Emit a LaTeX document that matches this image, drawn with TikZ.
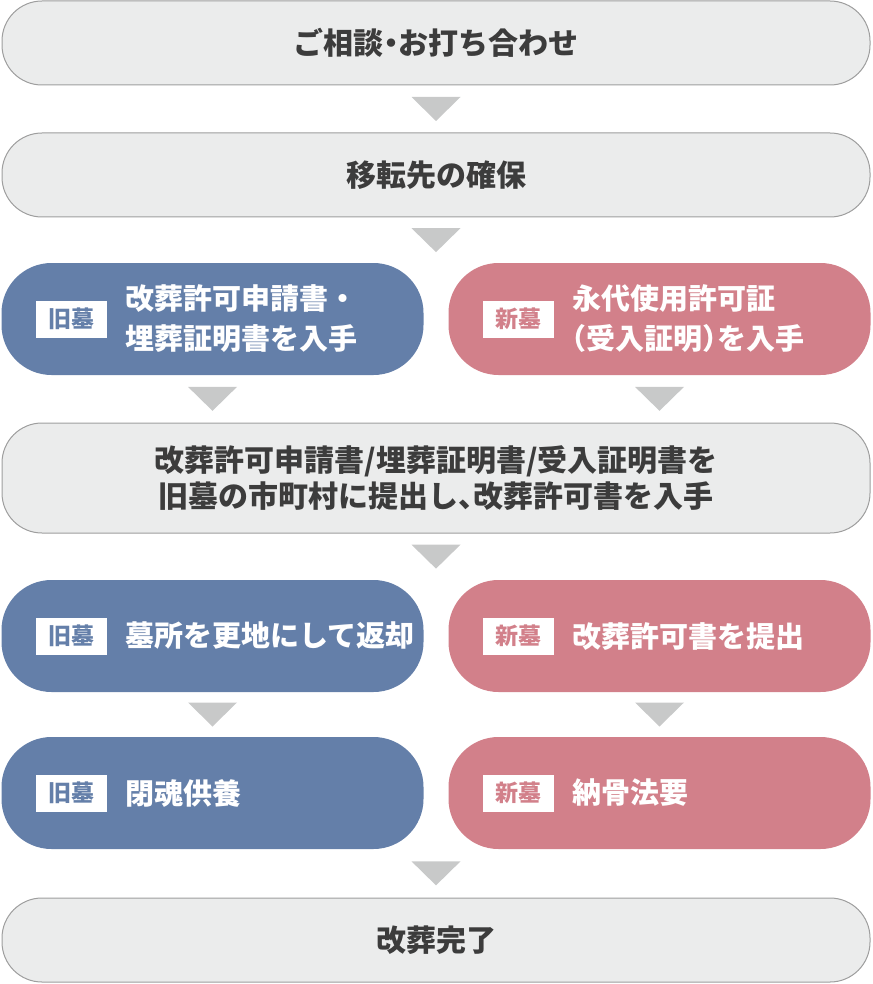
\documentclass[tikz,border=0pt]{standalone}
\usepackage{fontspec}
\setmainfont{Noto Sans CJK JP}
\usetikzlibrary{calc}
\definecolor{boxgray}{HTML}{EBECEC}
\definecolor{linegray}{HTML}{9E9E9E}
\definecolor{trigray}{HTML}{C8C9C9}
\definecolor{txtgray}{HTML}{3C3C3C}
\definecolor{oldblue}{HTML}{647FA9}
\definecolor{newpink}{HTML}{D2808A}
\begin{document}
\begin{tikzpicture}[x=1pt,y=-1pt,
 graybox/.style={draw=linegray,line width=1pt,fill=boxgray,rounded corners=40pt,minimum width=868pt,minimum height=84pt,inner sep=0pt,text=txtgray,font=\bfseries\fontsize{30}{36}\selectfont,align=center},
 colbox/.style={rounded corners=50pt,minimum width=422pt,minimum height=112pt,inner sep=0pt},
 oldbox/.style={colbox,fill=oldblue},
 newbox/.style={colbox,fill=newpink},
 badge/.style={fill=white,minimum width=71pt,minimum height=37pt,inner sep=0pt,font=\bfseries\fontsize{23}{23}\selectfont},
 lbl/.style={anchor=west,text=white,inner sep=0pt,align=left,font=\bfseries\fontsize{29}{40}\selectfont},
 tri/.pic={\fill[trigray] (-24.5,-12) -- (24.5,-12) -- (0,12) -- cycle;}
]
\useasboundingbox (0,0) rectangle (872,984);
% gray boxes
\node[graybox] (b1) at (436,43) {ご相談\makebox[.5em]{・}お打ち合わせ};
\node[graybox] (b2) at (436,175) {移転先の確保};
\node[graybox,minimum height=110pt] (b4) at (436,478) {改葬許可申請書/埋葬証明書/受入証明書を\\旧墓の市町村に提出し\makebox[.5em][l]{、}改葬許可書を入手};
\node[graybox] (b7) at (436,940) {改葬完了};
% row 3
\node[oldbox] (L3) at (212.5,319) {};
\node[badge,text=oldblue] (L3b) at (71.5,319) {旧墓};
\node[lbl] (L3t) at (125,319) {改葬許可申請書・\\埋葬証明書を入手};
\node[newbox] (R3) at (659.5,319) {};
\node[badge,text=newpink] (R3b) at (518.5,319) {新墓};
\node[lbl] (R3t) at (572,319) {永代使用許可証\\\makebox[.5em][r]{（}受入証明\makebox[.5em][l]{）}を入手};
% row 5
\node[oldbox] (L5) at (212.5,636) {};
\node[badge,text=oldblue] (L5b) at (71.5,636) {旧墓};
\node[lbl] (L5t) at (125,636) {墓所を更地にして返却};
\node[newbox] (R5) at (659.5,636) {};
\node[badge,text=newpink] (R5b) at (518.5,636) {新墓};
\node[lbl] (R5t) at (572,636) {改葬許可書を提出};
% row 6
\node[oldbox] (L6) at (212.5,793) {};
\node[badge,text=oldblue] (L6b) at (71.5,793) {旧墓};
\node[lbl] (L6t) at (125,793) {閉魂供養};
\node[newbox] (R6) at (659.5,793) {};
\node[badge,text=newpink] (R6b) at (518.5,793) {新墓};
\node[lbl] (R6t) at (572,793) {納骨法要};
% triangles
\pic at ($(b1.south)!.5!(b2.north)$) {tri};
\pic at ($(b2.south)!.5!(b2.south |- L3.north)$) {tri};
\pic at ($(L3.south)!.5!(L3.south |- b4.north)$) {tri};
\pic at ($(R3.south)!.5!(R3.south |- b4.north)$) {tri};
\pic at ($(b4.south)!.5!(b4.south |- L5.north)$) {tri};
\pic at ($(L5.south)!.5!(L6.north)$) {tri};
\pic at ($(R5.south)!.5!(R6.north)$) {tri};
\pic at ($(b7.north)!.5!(b7.north |- L6.south)$) {tri};
\end{tikzpicture}
\end{document}
